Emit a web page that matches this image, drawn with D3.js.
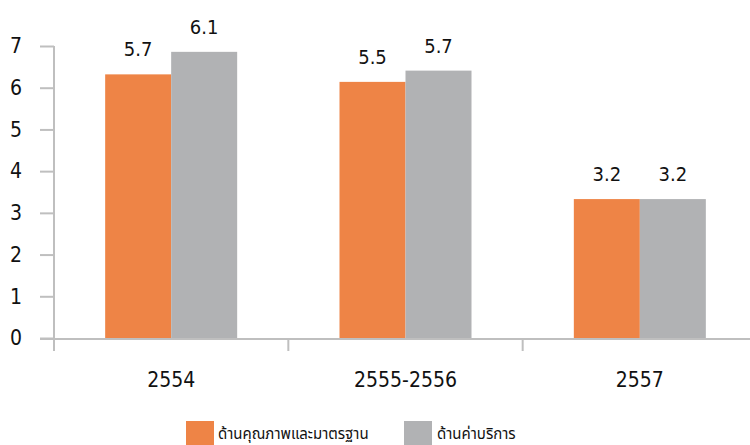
<!DOCTYPE html>
<html><head><meta charset="utf-8">
<script src="https://cdn.jsdelivr.net/npm/d3@7"></script>
<style>body{margin:0;background:#fff}svg{display:block}text{font-family:"DejaVu Sans Condensed","DejaVu Sans",sans-serif;font-stretch:condensed;fill:#111}</style>
</head><body><svg id="c" width="750" height="445"></svg>
<script>
const categories = ["2554", "2555-2556", "2557"];
const seriesNames = ["ด้านคุณภาพและมาตรฐาน", "ด้านค่าบริการ"];
const quality = [6.32, 6.14, 3.33];
const service = [6.86, 6.41, 3.33];
const qualityLabels = ["5.7", "5.5", "3.2"];
const serviceLabels = ["6.1", "5.7", "3.2"];
const yTicks = [0, 1, 2, 3, 4, 5, 6, 7];
const colors = ["#EE8446", "#B1B2B4"];

const svg = d3.select("#c");
const x0 = d3.scaleBand().domain(categories).range([54, 757]);
const y = d3.scaleLinear().domain([0, 7]).range([338, 46]);
const axisColor = "#BFBFBF";

// y axis
const ya = svg.append("g").attr("transform", "translate(54,0)")
  .call(d3.axisLeft(y).tickValues(yTicks).tickSize(14).tickPadding(18).tickFormat(d3.format("d")));
ya.select(".domain").remove();
ya.selectAll("line").attr("stroke", axisColor).attr("stroke-width", 2);
ya.selectAll("text").attr("font-size", 21).attr("fill", "#111");
svg.append("line").attr("x1", 54).attr("x2", 54).attr("y1", y(7)).attr("y2", 351)
  .attr("stroke", axisColor).attr("stroke-width", 2);

// x axis
const xa = svg.append("g").attr("transform", "translate(0,339)")
  .call(d3.axisBottom(x0).tickSize(0).tickPadding(33));
xa.select(".domain").remove();
xa.selectAll("text").attr("font-size", 21).attr("fill", "#111");
svg.append("line").attr("x1", 40).attr("x2", 750).attr("y1", 339).attr("y2", 339)
  .attr("stroke", axisColor).attr("stroke-width", 2);
[categories[1], categories[2]].forEach(c => {
  svg.append("line").attr("x1", x0(c)).attr("x2", x0(c)).attr("y1", 339).attr("y2", 351)
    .attr("stroke", axisColor).attr("stroke-width", 2);
});

const bw = 66;
const series = [
  {vals: quality, labels: qualityLabels, off: -bw, color: colors[0]},
  {vals: service, labels: serviceLabels, off: 0, color: colors[1]}
];
series.forEach(s => {
  categories.forEach((c, i) => {
    const cx = x0(c) + x0.bandwidth() / 2 + s.off;
    svg.append("rect").attr("x", cx).attr("width", bw)
      .attr("y", y(s.vals[i])).attr("height", y(0) - y(s.vals[i]))
      .attr("fill", s.color);
    svg.append("text").attr("x", cx + bw / 2).attr("y", y(s.vals[i]) - 18)
      .attr("text-anchor", "middle").attr("font-size", 20).text(s.labels[i]);
  });
});

// legend
const lg = [{x: 186, tx: 218}, {x: 404, tx: 437}];
seriesNames.forEach((n, i) => {
  svg.append("rect").attr("x", lg[i].x).attr("y", 421).attr("width", 28).attr("height", 24).attr("fill", colors[i]);
  svg.append("text").attr("x", lg[i].tx).attr("y", 439).attr("font-size", 15)
    .style("font-family", '"Noto Sans Thai","Noto Sans","DejaVu Sans",sans-serif')
    .style("font-stretch", "normal").text(n);
});
</script></body></html>
